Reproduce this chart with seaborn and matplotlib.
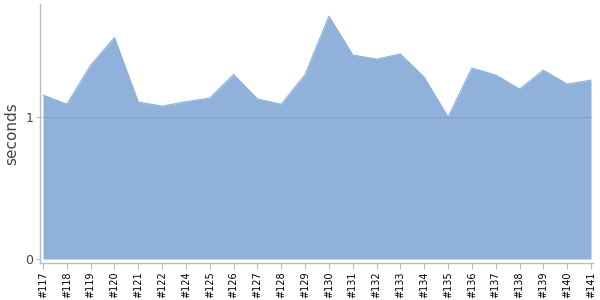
import matplotlib
matplotlib.use("Agg")
import matplotlib.pyplot as plt
import seaborn as sns
import pandas as pd
import numpy as np

builds = ["#117", "#118", "#119", "#120", "#121", "#122", "#124", "#125", "#126",
          "#127", "#128", "#129", "#130", "#131", "#132", "#133", "#134", "#135",
          "#136", "#137", "#138", "#139", "#140", "#141"]
seconds = [1.155, 1.09, 1.366, 1.56, 1.105, 1.077, 1.108, 1.134, 1.30,
           1.127, 1.09, 1.30, 1.71, 1.437, 1.408, 1.444, 1.28, 1.0,
           1.345, 1.296, 1.197, 1.33, 1.232, 1.26]

df = pd.DataFrame({"build": builds, "seconds": seconds})
df["pos"] = np.arange(len(df))

sns.set_style("white")
fig = plt.figure(figsize=(6, 3), dpi=100)
ax = fig.add_axes([40/600, 37/300, 553/600, 259/300])

fill_color = "#8fb1da"
sns.lineplot(data=df, x="pos", y="seconds", ax=ax, color=fill_color, linewidth=0.8)
ax.fill_between(df["pos"], 0, df["seconds"], color=fill_color, linewidth=0)

ax.axhline(1, color="#6f87a8", linestyle=(0, (2, 2)), linewidth=0.6, alpha=0.8)

ax.set_xlim(-0.126, len(df) - 1 + 0.084)
ax.set_ylim(-0.028, 1.796)
ax.set_xticks(df["pos"])
ax.set_xticklabels(df["build"], rotation=90, fontsize=7, color="black")
ax.set_yticks([0, 1])
ax.set_yticklabels(["0", "1"], fontsize=9, color="#444444")
ax.set_xlabel("")
ax.set_ylabel("seconds", fontsize=11, color="#444444")

for s in ["top", "right"]:
    ax.spines[s].set_visible(False)
for s in ["left", "bottom"]:
    ax.spines[s].set_color("#bbbbbb")
    ax.spines[s].set_linewidth(1)
ax.tick_params(axis="x", which="both", bottom=True, length=4, color="#bbbbbb", pad=2)
ax.tick_params(axis="y", which="both", left=True, length=3, color="#bbbbbb", pad=2)

fig.savefig("out.png", dpi=100)
